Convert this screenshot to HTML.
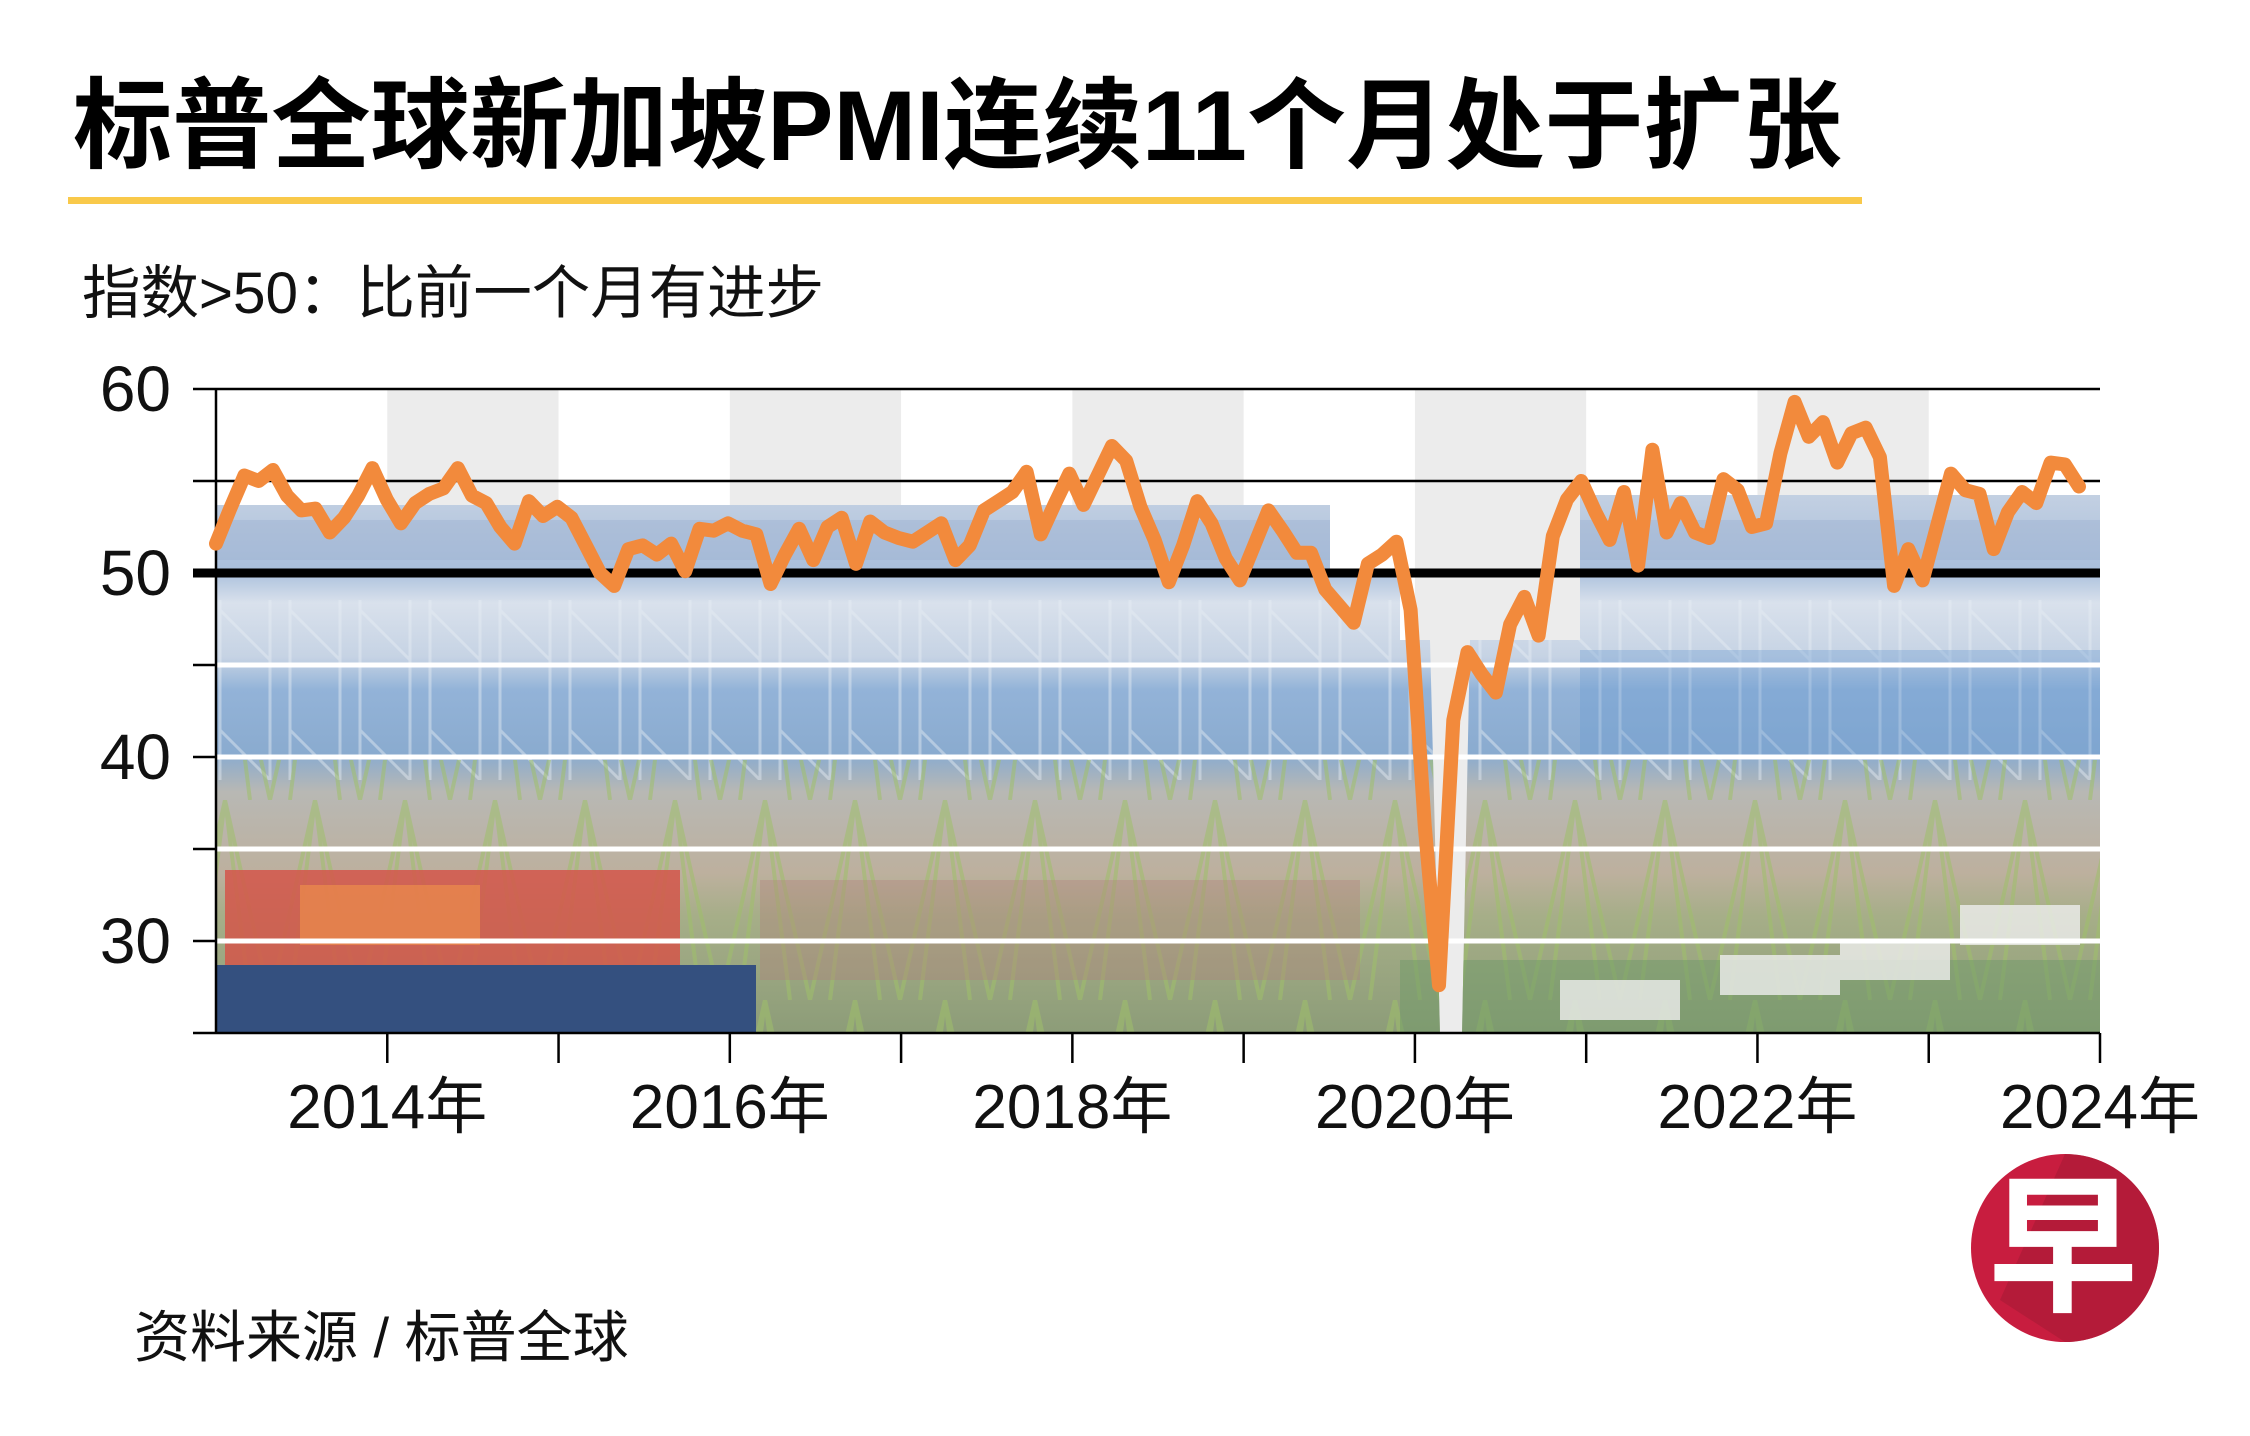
<!DOCTYPE html>
<html><head><meta charset="utf-8"><style>
html,body{margin:0;padding:0;background:#fff;}
svg{display:block;}
.cjk{font-family:"Liberation Sans","Noto Sans CJK SC",sans-serif;}
.nar{font-family:"Liberation Sans Narrow","Liberation Sans","Noto Sans CJK SC",sans-serif;}
</style></head><body>
<svg id="chart" width="2250" height="1436" viewBox="0 0 2250 1436" xmlns="http://www.w3.org/2000/svg">
<defs>
<linearGradient id="photoGrad" x1="0" y1="0" x2="0" y2="1">
<stop offset="0" stop-color="#c3d0e2"/>
<stop offset="0.14" stop-color="#a9bfdc"/>
<stop offset="0.2" stop-color="#d9e1ec"/>
<stop offset="0.3" stop-color="#c6d3e4"/>
<stop offset="0.36" stop-color="#93b3d8"/>
<stop offset="0.48" stop-color="#8aabcf"/>
<stop offset="0.55" stop-color="#b8b8b4"/>
<stop offset="0.7" stop-color="#bdb09e"/>
<stop offset="0.78" stop-color="#a6ae88"/>
<stop offset="1" stop-color="#8c9c78"/>
</linearGradient>
<pattern id="cranes" width="90" height="200" patternUnits="userSpaceOnUse">
<path d="M0 200 L45 0 L90 200 M20 200 L45 0 L70 200" stroke="#9fbf6a" stroke-width="4" fill="none" opacity="0.55"/>
</pattern>
<pattern id="cranes2" width="70" height="120" patternUnits="userSpaceOnUse">
<path d="M10 0 L10 120 M10 10 L60 60 M60 0 L60 120" stroke="#e8eef5" stroke-width="3" fill="none" opacity="0.45"/>
</pattern>
<clipPath id="photoClip"><path id="photoShape" d="M216 505 L1330 505 L1330 573 L1400 573 L1400 1034 L216 1034 Z M1400 640 L1430 640 L1440 1034 L1400 1034 Z M1462 1034 L1470 640 L1580 640 L1580 495 L2100 495 L2100 1034 Z"/></clipPath>
</defs>

<text class="cjk" x="73" y="160" font-size="99" font-weight="bold" fill="#000" textLength="1769" lengthAdjust="spacingAndGlyphs">标普全球新加坡PMI连续11个月处于扩张</text>
<rect x="68" y="197" width="1794" height="7" fill="#f9c94a"/>
<text class="nar" x="82" y="313" font-size="58" fill="#111" textLength="742" lengthAdjust="spacingAndGlyphs">指数&gt;50：比前一个月有进步</text>

<g id="bands"></g>
<g clip-path="url(#photoClip)">
<rect x="216" y="495" width="1884" height="540" fill="url(#photoGrad)"/>
<rect x="216" y="600" width="1884" height="180" fill="url(#cranes2)"/>
<rect x="216" y="760" width="1884" height="274" fill="url(#cranes)"/>
<rect x="216" y="520" width="1884" height="40" fill="#9fb4d2" opacity="0.5"/>
<rect x="225" y="870" width="455" height="95" fill="#d4564a" opacity="0.85"/>
<rect x="300" y="885" width="180" height="60" fill="#e8874c" opacity="0.8"/>
<rect x="216" y="965" width="540" height="69" fill="#34507f"/>
<rect x="760" y="880" width="600" height="100" fill="#b27f7a" opacity="0.35"/>
<rect x="1400" y="960" width="700" height="74" fill="#6f9a68" opacity="0.5"/>
<rect x="1560" y="980" width="120" height="40" fill="#eeeeee" opacity="0.8"/>
<rect x="1720" y="955" width="120" height="40" fill="#eeeeee" opacity="0.8"/>
<rect x="1840" y="940" width="110" height="40" fill="#eeeeee" opacity="0.8"/>
<rect x="1960" y="905" width="120" height="40" fill="#eeeeee" opacity="0.8"/>
<rect x="1580" y="650" width="520" height="110" fill="#6b9ad0" opacity="0.35"/>
</g>
<g id="grid"></g>
<g id="axes"></g>
<path id="pmiLine" fill="none" stroke="#f28a3c" stroke-width="14" stroke-linejoin="round" stroke-linecap="round"/>

<text class="nar" x="134" y="1357" font-size="56" fill="#111">资料来源 / 标普全球</text>

<g>
<circle cx="2065" cy="1248" r="94" fill="#c81d3f"/>
<path d="M2065 1154 A94 94 0 0 1 2065 1342 L2000 1300 Z" fill="#a71a36" opacity="0.6"/>
<text x="2063" y="1300" text-anchor="middle" font-family="'Noto Sans CJK SC','WenQuanYi Zen Hei',sans-serif" font-weight="bold" font-size="150" fill="#fff">早</text>
</g>
</svg>
<script>
const yTicks = [60, 55, 50, 45, 40, 35, 30];
const yLabels = ["60", "50", "40", "30"];
const yLabelValues = [60, 50, 40, 30];
const years = [2014, 2016, 2018, 2020, 2022, 2024];
const pmi = [51.6,53.5,55.3,55.0,55.6,54.2,53.4,53.5,52.2,53.0,54.2,55.7,
54.0,52.7,53.8,54.3,54.6,55.7,54.2,53.8,52.5,51.6,53.9,53.1,
53.6,53.0,51.5,50.0,49.3,51.3,51.5,51.0,51.6,50.1,52.4,52.3,
52.7,52.3,52.1,49.4,51.0,52.4,50.7,52.5,53.0,50.5,52.8,52.2,
51.9,51.7,52.2,52.7,50.7,51.5,53.4,53.9,54.4,55.5,52.1,53.8,
55.4,53.7,55.3,56.9,56.1,53.6,51.8,49.5,51.5,53.9,52.7,50.8,
49.6,51.5,53.4,52.3,51.1,51.1,49.1,48.2,47.3,50.5,51.0,51.7,
48.0,36.2,27.6,42.0,45.7,44.5,43.5,47.2,48.7,46.6,52.0,54.0,
55.0,53.3,51.8,54.4,50.4,56.7,52.2,53.8,52.2,51.9,55.1,54.5,
52.5,52.7,56.5,59.3,57.4,58.2,56.0,57.6,57.9,56.3,49.3,51.3,
49.6,52.5,55.4,54.5,54.3,51.3,53.3,54.4,53.8,56.0,55.9,54.7];

const NS = "http://www.w3.org/2000/svg";
const X0 = 216, X1 = 2079, XY0 = 216, XY1 = 2100;
function yScale(v){ return 573 - (v - 50) * 18.4; }
function xIdx(i){ return X0 + i * (X1 - X0) / (pmi.length - 1); }
function xYear(y){ return XY0 + (y - 2013) * (XY1 - XY0) / 11; }
function mk(tag, attrs, parent){ const e = document.createElementNS(NS, tag); for (const k in attrs) e.setAttribute(k, attrs[k]); parent.appendChild(e); return e; }

const bands = document.getElementById('bands');
for (let y = 2014; y <= 2022; y += 2) {
  const r = mk('rect', {x: xYear(y), y: yScale(60), width: xYear(y+1)-xYear(y), height: (y===2020 ? yScale(25) : yScale(50)) - yScale(60), fill: '#ececec'}, bands);
  
  
}

const grid = document.getElementById('grid');
yTicks.forEach(v => {
  const yy = yScale(v);
  if (v >= 50) {
    const l = mk('line', {x1: 193, x2: XY1, y1: yy, y2: yy, stroke: '#000', 'stroke-width': v === 50 ? 9 : 2.5}, grid);
    
    
  } else {
    const w = mk('line', {x1: XY0, x2: XY1, y1: yy, y2: yy, stroke: '#fff', 'stroke-width': 5}, grid);
    
    
    const t = mk('line', {x1: 193, x2: XY0, y1: yy, y2: yy, stroke: '#000', 'stroke-width': 2.5}, grid);
    
    
  }
});

const axes = document.getElementById('axes');
const ya = mk('line', {x1: XY0, x2: XY0, y1: yScale(60), y2: yScale(25), stroke: '#000', 'stroke-width': 2.5}, axes);


const xa = mk('line', {x1: 193, x2: XY1, y1: yScale(25), y2: yScale(25), stroke: '#000', 'stroke-width': 2.5}, axes);


for (let y = 2014; y <= 2024; y++) {
  const t = mk('line', {x1: xYear(y), x2: xYear(y), y1: yScale(25), y2: yScale(25) + 30, stroke: '#000', 'stroke-width': 2.5}, axes);
  
  
}
years.forEach(y => {
  const t = mk('text', {x: xYear(y), y: 1128, 'text-anchor': 'middle', 'font-size': 62, fill: '#111', class: 'nar'}, axes);
  t.textContent = y + '年';
  
  
});
yLabels.forEach((s, i) => {
  const t = mk('text', {x: 171, y: yScale(yLabelValues[i]) + 22, 'text-anchor': 'end', 'font-size': 64, fill: '#111', class: 'nar'}, axes);
  t.textContent = s;
  
  
});

document.getElementById('pmiLine').setAttribute('d', pmi.map((v, i) => (i ? 'L' : 'M') + xIdx(i).toFixed(1) + ' ' + yScale(v).toFixed(1)).join(' '));
</script>
</body></html>
